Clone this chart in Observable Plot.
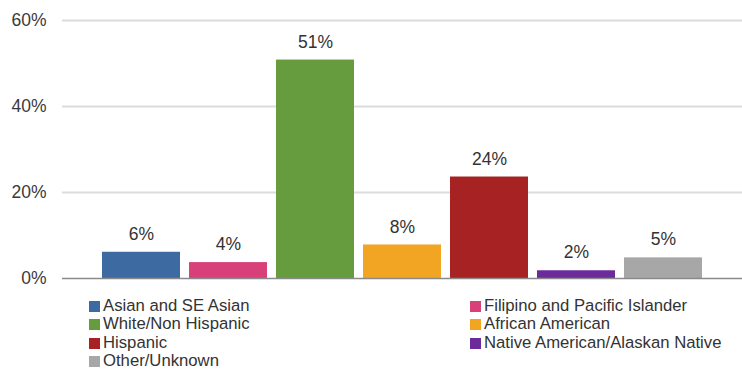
<!DOCTYPE html>
<html>
<head>
<meta charset="utf-8">
<script src="https://cdn.jsdelivr.net/npm/d3@7"></script>
<script src="https://cdn.jsdelivr.net/npm/@observablehq/plot@0.6"></script>
<style>
  html, body { margin: 0; padding: 0; background: #fff; }
  body { width: 742px; height: 371px; overflow: hidden; font-family: "Liberation Sans", Arial, sans-serif; }
  #legend {
    display: grid;
    grid-template-columns: 381px auto;
    margin-left: 89px;
    padding-top: 7px;
    font-size: 16.7px;
    line-height: 18.4px;
    color: #333;
  }
  .item { display: flex; align-items: center; white-space: nowrap; }
  .sw { width: 11px; height: 11px; margin-right: 3px; flex: none; }
</style>
</head>
<body>
<div id="chart"></div>
<div id="legend"></div>
<script>
const categories = [
  "Asian and SE Asian",
  "Filipino and Pacific Islander",
  "White/Non Hispanic",
  "African American",
  "Hispanic",
  "Native American/Alaskan Native",
  "Other/Unknown"
];
const values = [6.1, 3.7, 50.8, 7.8, 23.6, 1.8, 4.8];
const labels = ["6%", "4%", "51%", "8%", "24%", "2%", "5%"];
const colors = ["#3c6aa1", "#d8407a", "#669b3e", "#f1a523", "#a72222", "#6c2b9b", "#a7a7a7"];
const yTicks = [0, 20, 40, 60];
const gridTicks = [20, 40, 60];

const data = categories.map((c, i) => ({ cat: c, value: values[i], label: labels[i] }));

const chart = Plot.plot({
  width: 742,
  height: 290,
  marginLeft: 62,
  marginRight: 0,
  marginTop: 20,
  marginBottom: 12,
  style: { fontFamily: "'Liberation Sans', Arial, sans-serif", fontSize: "17.5px", color: "#3a3a3a", background: "#fff" },
  x: { type: "band", domain: categories, paddingInner: 0.1, paddingOuter: 0.427, align: 0.5, axis: null },
  y: { domain: [0, 60], ticks: yTicks, tickFormat: d => d + "%", tickSize: 0, tickPadding: 16, label: null },
  color: { domain: categories, range: colors },
  marks: [
    Plot.ruleY(gridTicks, { stroke: "#dcdcdc", strokeWidth: 2 }),
    Plot.barY(data, { x: "cat", y: "value", fill: "cat" }),
    Plot.ruleY([0], { stroke: "#8a8a8a", strokeWidth: 1.5 }),
    Plot.text(data, { x: "cat", y: "value", text: "label", dy: -18, fill: "#333", fontSize: 17.5 })
  ]
});
document.getElementById("chart").appendChild(chart);

// Legend: two columns, row-major order
const legend = d3.select("#legend");
categories.forEach((c, i) => {
  const item = legend.append("div").attr("class", "item");
  item.append("span").attr("class", "sw").style("background", colors[i]);
  item.append("span").text(c);
});
</script>
</body>
</html>
